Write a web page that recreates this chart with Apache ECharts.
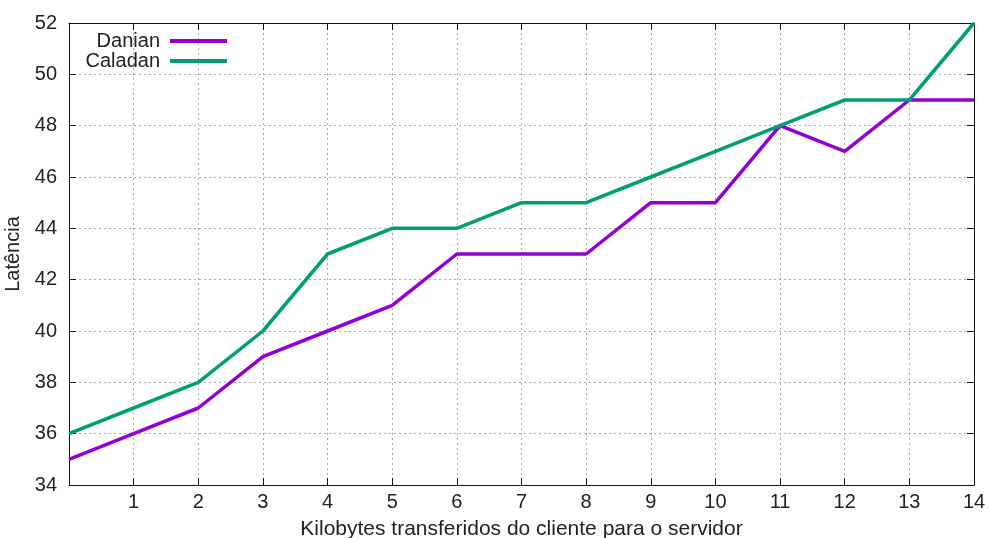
<!DOCTYPE html>
<html>
<head>
<meta charset="utf-8">
<script src="https://cdn.jsdelivr.net/npm/echarts@6/dist/echarts.min.js"></script>
<style>
  html, body { margin: 0; padding: 0; background: #fff; }
  #chart { width: 989px; height: 538px; }
</style>
</head>
<body>
<div id="chart"></div>
<script>
// Kilobytes sent from client to server
const xValues = [0, 1, 2, 3, 4, 5, 6, 7, 8, 9, 10, 11, 12, 13, 14];
// Latency per implementation
const danian  = [35, 36, 37, 39, 40, 41, 43, 43, 43, 45, 45, 48, 47, 49, 49];
const caladan = [36, 37, 38, 40, 43, 44, 44, 45, 45, 46, 47, 48, 49, 49, 52];

const seriesNames = ['Danian', 'Caladan'];
const seriesColors = ['#9400d3', '#009e73'];

const font = 'Liberation Sans, Arial, sans-serif';
const textColor = '#222';
const fontSize = 20;

const chart = echarts.init(document.getElementById('chart'), null, { renderer: 'canvas' });

const gridLines = { show: true, lineStyle: { color: '#aaa', type: [2, 3], width: 1 } };
const border = { show: true, onZero: false, lineStyle: { color: '#111', width: 1 } };
const ticks = { show: true, inside: true, length: 7, lineStyle: { color: '#111' } };

chart.setOption({
  animation: false,
  backgroundColor: '#fff',
  grid: { left: 69, right: 15, top: 23, bottom: 53, containLabel: false, outerBoundsMode: 'none' },
  legend: {
    orient: 'vertical',
    left: 80,
    top: 31,
    padding: 0,
    align: 'right',
    itemWidth: 57,
    itemHeight: 4,
    itemGap: 0,
    icon: 'rect',
    data: seriesNames,
    textStyle: {
      fontFamily: font, fontSize: fontSize, color: textColor,
      width: 80, align: 'right', lineHeight: 19, padding: [0, 5, 0, 0]
    }
  },
  xAxis: [
    {
      type: 'value', min: 0, max: 14, interval: 1, position: 'bottom',
      name: 'Kilobytes transferidos do cliente para o servidor',
      nameLocation: 'middle', nameGap: 34,
      nameTextStyle: { fontFamily: font, fontSize: 21, color: textColor },
      axisLine: border,
      axisTick: ticks,
      axisLabel: {
        fontFamily: font, fontSize: fontSize, color: textColor, margin: 7,
        formatter: v => (v === 0 ? '' : String(v))
      },
      splitLine: gridLines
    },
    {
      type: 'value', min: 0, max: 14, interval: 1, position: 'top',
      axisLine: border,
      axisTick: ticks,
      axisLabel: { show: false },
      splitLine: { show: false }
    }
  ],
  yAxis: [
    {
      type: 'value', min: 34, max: 52, interval: 2, position: 'left',
      name: 'Latência', nameLocation: 'middle', nameGap: 37, nameRotate: 90,
      nameTextStyle: { fontFamily: font, fontSize: fontSize, color: textColor },
      axisLine: border,
      axisTick: ticks,
      axisLabel: { fontFamily: font, fontSize: fontSize, color: textColor, margin: 12 },
      splitLine: gridLines
    },
    {
      type: 'value', min: 34, max: 52, interval: 2, position: 'right',
      axisLine: border,
      axisTick: ticks,
      axisLabel: { show: false },
      splitLine: { show: false }
    }
  ],
  series: [danian, caladan].map((vals, i) => ({
    name: seriesNames[i],
    type: 'line',
    xAxisIndex: 0,
    yAxisIndex: 0,
    data: xValues.map((x, j) => [x, vals[j]]),
    symbol: 'none',
    color: seriesColors[i],
    lineStyle: { color: seriesColors[i], width: 3.5 }
  }))
});
</script>
</body>
</html>
